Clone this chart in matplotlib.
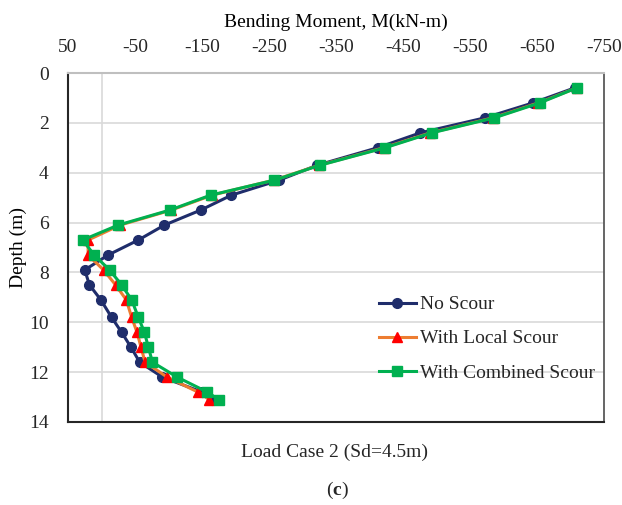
import matplotlib
matplotlib.use("Agg")
import matplotlib.pyplot as plt

plt.rcParams['font.family'] = ['Liberation Serif', 'DejaVu Serif']
plt.rcParams['mathtext.fontset'] = 'custom'
plt.rcParams['mathtext.bf'] = 'Liberation Serif:bold'
plt.rcParams['text.color'] = '#262626'
plt.rcParams['axes.unicode_minus'] = False

# depth below pile head (m)
depth = [0.6, 1.2, 1.8, 2.4, 3.0, 3.7, 4.3, 4.9, 5.5, 6.1, 6.7,
         7.3, 7.9, 8.5, 9.1, 9.8, 10.4, 11.0, 11.6, 12.2, 12.8, 13.1]

# bending moment M (kN-m), load case 2
m_no_scour = [-706, -644, -572, -476, -412, -322, -265, -194, -148, -94, -55,
              -10, 25, 18, 1, -15, -30, -44, -57, -91, -150, -165]
m_local = [-709, -652, -584, -491, -421, -325, -257, -165, -104, -28, 20,
           20, -3, -21, -37, -45, -53, -59, -65, -98, -144, -161]
m_combined = [-709, -654, -586, -493, -423, -326, -258, -163, -102, -25, 28,
              11, -12, -30, -45, -55, -64, -70, -76, -113, -158, -175]

xticks = [50, -50, -150, -250, -350, -450, -550, -650, -750]
xgrid = [0, -50, -150, -250, -350, -450, -550, -650]
yticks = [0, 2, 4, 6, 8, 10, 12, 14]

fig = plt.figure(figsize=(6.22, 5.05), dpi=100)
ax = fig.add_axes([68/622, 1-422/505, (604-68)/622, (422-73)/505])

ax.plot(m_no_scour, depth, color='#1F2D6B', lw=2.2, marker='o', ms=7,
        label='No Scour', zorder=3)
ax.plot(m_local, depth, color='#ED7D31', lw=2.2, marker='^', ms=7,
        mfc='#FF0000', mec='#FF0000', label='With Local Scour', zorder=4)
ax.plot(m_combined, depth, color='#00B050', lw=2.2, marker='s', ms=7,
        label='With Combined Scour', zorder=5)

ax.set_xlim(50, -750)
ax.set_ylim(14, 0)
ax.set_xticks(xticks)
ax.set_xticks(xgrid, minor=True)
ax.set_yticks(yticks)
ax.xaxis.tick_top()
ax.xaxis.set_label_position('top')
ax.tick_params(axis='x', which='both', length=0, pad=12, labelsize=14, colors='#262626')
ax.tick_params(axis='y', length=0, pad=14, labelsize=14, colors='#262626')
ax.grid(False)
ax.grid(True, which='minor', axis='x', color='#D9D9D9', lw=1.2)
ax.grid(True, which='major', axis='y', color='#D9D9D9', lw=1.2)
ax.set_axisbelow(True)

ax.spines['left'].set_color('#262626')
ax.spines['bottom'].set_color('#262626')
ax.spines['left'].set_linewidth(1.5)
ax.spines['bottom'].set_linewidth(1.5)
ax.spines['right'].set_color('#595959')
ax.spines['right'].set_linewidth(1.3)
ax.spines['top'].set_color('#BFBFBF')
ax.spines['top'].set_linewidth(1.5)

ax.set_xlabel('Bending Moment, M(kN-m)', fontsize=14, labelpad=9)
ax.set_ylabel('Depth (m)', fontsize=14, labelpad=1)

ax.legend(loc='upper left', bbox_to_anchor=(369/622, 1-286/505),
          bbox_transform=fig.transFigure, frameon=False, fontsize=14,
          handlelength=1.9, handletextpad=0.2, labelspacing=0.85, borderpad=0)

fig.text(335/622, 1-452/505, 'Load Case 2 (Sd=4.5m)', ha='center', va='center', fontsize=14)
fig.text(337/622, 1-490/505, r'($\mathbf{c}$)', ha='center', va='center', fontsize=14)

fig.savefig('out.png', dpi=100)
